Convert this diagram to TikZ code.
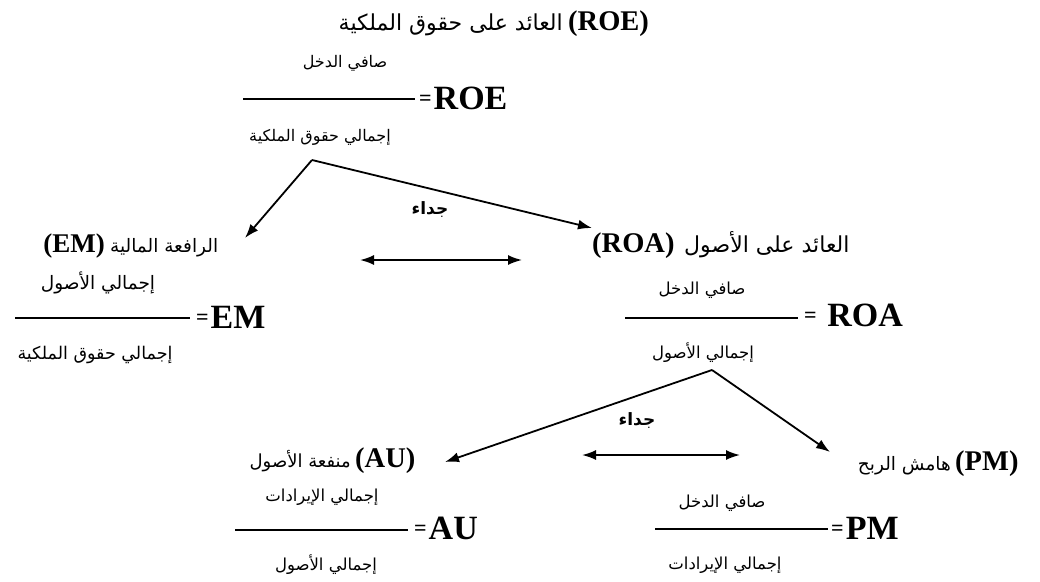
\documentclass[tikz,border=0pt]{standalone}
\usepackage{fontspec}
\setmainfont{Liberation Serif}
\newfontfamily\arfont[Script=Arabic]{DejaVu Sans}
\newfontfamily\latfont{Liberation Serif}
\TeXXeTstate=1
\usetikzlibrary{arrows.meta}
\tikzset{
  ar/.style={font=\arfont\fontsize{#1}{#1}\selectfont, inner sep=0pt},
  ar/.default=16.5,
  arb/.style={font=\arfont\bfseries\fontsize{17}{20}\selectfont, inner sep=0pt},
  lt/.style={font=\latfont\bfseries\fontsize{34}{36}\selectfont, inner sep=0pt},
  lts/.style={font=\latfont\bfseries\fontsize{#1}{#1}\selectfont, inner sep=0pt},
  lts/.default=28.5,
  fbar/.style={line width=2pt},
  arr/.style={line width=1.8pt, -{Latex[length=14pt,width=10pt]}},
  darr/.style={line width=1.8pt, {Latex[length=14pt,width=10pt]}-{Latex[length=14pt,width=10pt]}},
}
\newcommand{\eqs}{\raisebox{4pt}{\fontsize{22}{22}\selectfont=}\kern2pt}
\begin{document}
\begin{tikzpicture}[x=1pt,y=-1pt]
\useasboundingbox[fill=white] (0,0) rectangle (1040,581);

% ---- ROE ----
\node[ar=22, anchor=base east] (roeT) at (563,30) {\beginR العائد على حقوق الملكية\endR};
\node[lts, anchor=base west] (roeTL) at (568,30) {(ROE)};
\node[ar=16] (roeN) at (345,63) {\beginR صافي الدخل\endR};
\coordinate (roeB1) at (243,99);
\coordinate (roeB2) at (415,99);
\draw[fbar] (roeB1) -- (roeB2);
\node[lt, anchor=base west] (roeF) at (419,109) {\eqs ROE};
\node[ar=16] (roeD) at (320,137) {\beginR إجمالي حقوق الملكية\endR};
\coordinate (roeS) at (312,160);

% ---- EM ----
\node[lts=27, anchor=base east] (emTL) at (105,252) {(EM)};
\node[ar=18.5, anchor=base west] (emT) at (110,252) {\beginR الرافعة المالية\endR};
\coordinate (emE) at (245,238);
\node[ar=18.5] (emN) at (98,283) {\beginR إجمالي الأصول\endR};
\coordinate (emB1) at (15,318);
\coordinate (emB2) at (190,318);
\draw[fbar] (emB1) -- (emB2);
\node[lt, anchor=base west] (emF) at (196,328) {\eqs EM};
\node[ar=17.5] (emD) at (95,355) {\beginR إجمالي حقوق الملكية\endR};

% ---- ROA ----
\node[lts, anchor=base west] (roaTL) at (592,252) {(ROA)};
\node[ar=22, anchor=base west] (roaT) at (684,252) {\beginR العائد على الأصول\endR};
\coordinate (roaE) at (592,228);
\node[ar=16.5] (roaN) at (702,290) {\beginR صافي الدخل\endR};
\coordinate (roaB1) at (625,318);
\coordinate (roaB2) at (798,318);
\draw[fbar] (roaB1) -- (roaB2);
\node[lt, anchor=base west] (roaF) at (804,326) {\eqs\ ROA};
\node[ar=16.5] (roaD) at (703,353) {\beginR إجمالي الأصول\endR};
\coordinate (roaS) at (712,370);

% ---- top product ----
\node[arb] (m1) at (430,210) {جداء};
\coordinate (m1a) at (360,260);
\coordinate (m1b) at (522,260);
\draw[darr] (m1a) -- (m1b);
\draw[arr] (roeS) -- (emE);
\draw[arr] (roeS) -- (roaE);

% ---- AU ----
\node[ar=18, anchor=base east] (auT) at (351,467) {\beginR منفعة الأصول\endR};
\node[lts, anchor=base west] (auTL) at (355,467) {(AU)};
\coordinate (auE) at (445,462);
\node[ar=16.5] (auN) at (322,497) {\beginR إجمالي الإيرادات\endR};
\coordinate (auB1) at (235,530);
\coordinate (auB2) at (408,530);
\draw[fbar] (auB1) -- (auB2);
\node[lt, anchor=base west] (auF) at (414,539) {\eqs AU};
\node[ar=16.5] (auD) at (326,565) {\beginR إجمالي الأصول\endR};

% ---- PM ----
\node[ar=18.5, anchor=base east] (pmT) at (951,470) {\beginR هامش الربح\endR};
\node[lts, anchor=base west] (pmTL) at (955,470) {(PM)};
\coordinate (pmE) at (830,452);
\node[ar=16.5] (pmN) at (722,503) {\beginR صافي الدخل\endR};
\coordinate (pmB1) at (655,529);
\coordinate (pmB2) at (828,529);
\draw[fbar] (pmB1) -- (pmB2);
\node[lt, anchor=base west] (pmF) at (831,539) {\eqs PM};
\node[ar=16.5] (pmD) at (725,565) {\beginR إجمالي الإيرادات\endR};

% ---- bottom product ----
\node[arb] (m2) at (637,421) {جداء};
\coordinate (m2a) at (582,455);
\coordinate (m2b) at (740,455);
\draw[darr] (m2a) -- (m2b);
\draw[arr] (roaS) -- (auE);
\draw[arr] (roaS) -- (pmE);
\end{tikzpicture}
\end{document}
